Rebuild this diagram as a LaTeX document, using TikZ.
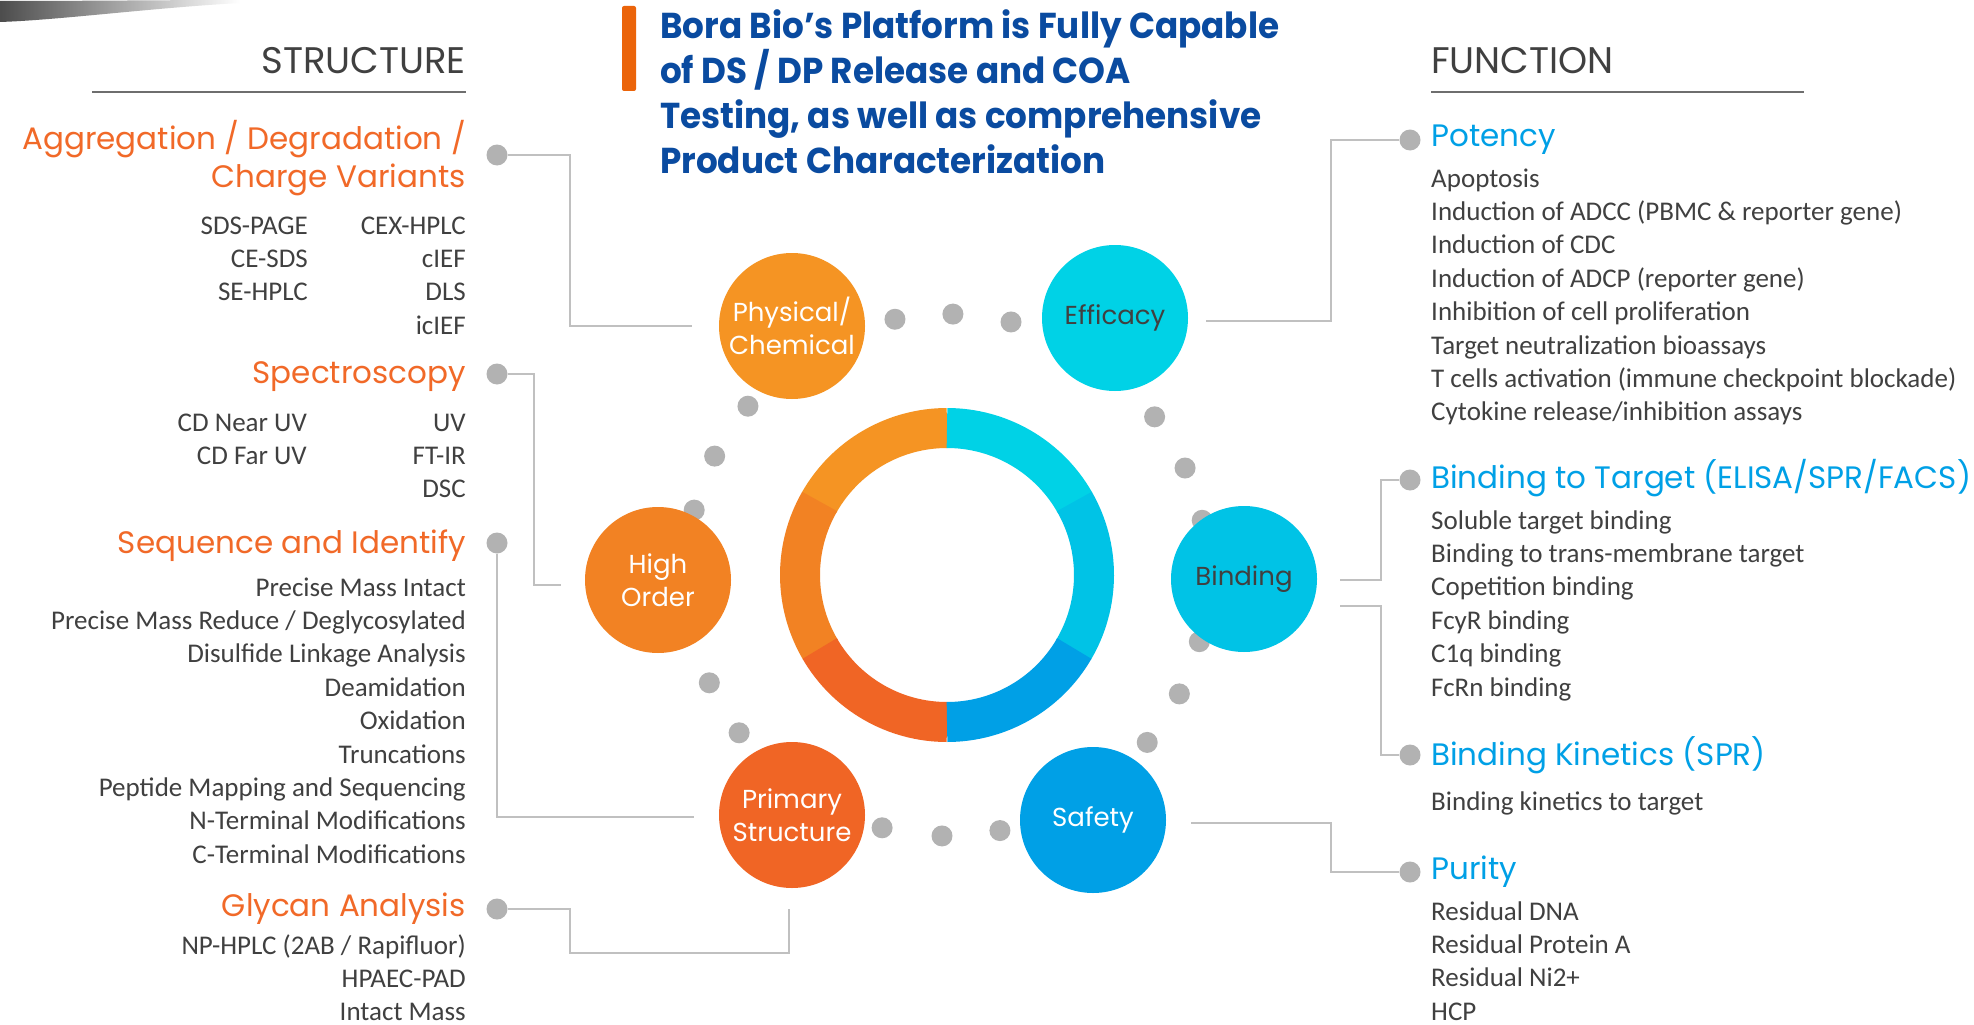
\documentclass[tikz,border=0pt]{standalone}
\usepackage{fontspec}
\setmainfont{Carlito}
\newfontfamily\gothic{Poppins}
\newfontfamily\gothicttl{Poppins}[FakeStretch=0.95]
\usetikzlibrary{positioning,backgrounds}

\definecolor{txtgray}{RGB}{64,64,64}
\definecolor{headorange}{RGB}{241,105,40}
\definecolor{headblue}{RGB}{0,160,230}
\definecolor{dotgray}{RGB}{178,178,178}
\definecolor{linegray}{RGB}{192,192,192}
\definecolor{rulegray}{RGB}{110,110,110}
\definecolor{ttlblue}{RGB}{10,75,160}
\definecolor{barorange}{RGB}{235,100,10}
\definecolor{physorange}{RGB}{245,148,35}
\definecolor{highorange}{RGB}{242,130,35}
\definecolor{primorange}{RGB}{240,101,37}
\definecolor{efficyan}{RGB}{0,210,230}
\definecolor{bindcyan}{RGB}{0,195,230}
\definecolor{safeblue}{RGB}{0,160,230}

\begin{document}
\begin{tikzpicture}[x=1pt, y=1pt, node distance=7pt]
	\tikzset{
		item/.style={inner sep=0pt, text height=19pt, text depth=7pt, text=txtgray, font=\fontsize{27}{31}\selectfont},
		litem/.style={item, below left=7pt and 0pt of #1.south east},
		ritem/.style={item, below right=7pt and 0pt of #1.south west},
		lhead/.style={inner sep=0pt, text=headorange, font=\gothic\fontsize{31}{38}\selectfont},
		rhead/.style={inner sep=0pt, text=headblue, font=\gothic\fontsize{31}{38}\selectfont},
		sect/.style={inner sep=0pt, text=txtgray, font=\gothic\fontsize{37}{44}\selectfont},
		dot/.style={circle, fill=dotgray, minimum size=21pt, inner sep=0pt},
		bubble/.style={circle, minimum size=146pt, inner sep=0pt, align=center, font=\gothic\fontsize{26}{33}\selectfont, text=white},
		link/.style={draw=linegray, line width=1.5pt},
		seg/.style={line width=40pt}
	}
	\useasboundingbox (0,0) rectangle (1974,-1025);
	\begin{scope}[on background layer]
		\fill[white] (0,0) rectangle (1974,-1025);
	\end{scope}
	% smudge in the corner
	\shade[left color=black!70, right color=white] (0,-1) .. controls (80,-1) and (180,0) .. (240,0) -- (240,-3) .. controls (150,-8) and (60,-20) .. (0,-22) -- cycle;

	% title
	\fill[barorange, rounded corners=2pt] (622,-6) rectangle (636,-91);
	\node[anchor=north west, align=left, inner sep=0pt, text=ttlblue, font=\gothicttl\bfseries\fontsize{36}{45}\selectfont] (title) at (660,-9) {Bora Bio’s Platform is Fully Capable\\of DS / DP Release and COA\\Testing, as well as comprehensive\\Product Characterization};

	% ring
	\coordinate (ctr) at (947,-575);
	\draw[seg, physorange] ([shift={(90:147)}]ctr) arc[start angle=90, end angle=150.5, radius=147];
	\draw[seg, highorange] ([shift={(150:147)}]ctr) arc[start angle=150, end angle=210.5, radius=147];
	\draw[seg, primorange] ([shift={(210:147)}]ctr) arc[start angle=210, end angle=270, radius=147];
	\draw[seg, efficyan] ([shift={(90:147)}]ctr) arc[start angle=90, end angle=29.5, radius=147];
	\draw[seg, bindcyan] ([shift={(30:147)}]ctr) arc[start angle=30, end angle=-30.5, radius=147];
	\draw[seg, safeblue] ([shift={(-30:147)}]ctr) arc[start angle=-30, end angle=-90, radius=147];

	\foreach \a in {101.5,88.7,75.8,37.3,24.2,12.1,-14.8,-27.1,-39.9,-78.3,-91.1,-104.4,-142.8,-155.6,165.6,152.9,139.7}
		\fill[dotgray] ([shift={(\a:261)}]ctr) circle (10.5);

	\node[bubble, fill=physorange] (phys) at (792,-326) {Physical/\\Chemical};
	\node[bubble, fill=efficyan, text=txtgray] (effic) at (1115,-318) {Efficacy};
	\node[bubble, fill=highorange] (highord) at (658,-580) {High\\Order};
	\node[bubble, fill=bindcyan, text=txtgray] (bind) at (1244,-579) {Binding};
	\node[bubble, fill=primorange] (prim) at (792,-815) {Primary\\Structure};
	\node[bubble, fill=safeblue] (safety) at (1093,-820) {Safety};

	% structure side
	\node[sect, anchor=base east] (structure) at (466,-74) {STRUCTURE};
	\draw[rulegray, line width=1.5pt] (92,-92) -- (466,-92);

	\node[lhead, align=right, anchor=east] (aggr) at (466,-158) {Aggregation / Degradation /\\Charge Variants};
	\node[dot] (daggr) at (497,-155) {};
	\node[item, anchor=base east] (aggr1) at (308,-234) {SDS-PAGE};
	\node[litem=aggr1] (aggr2) {CE-SDS};
	\node[litem=aggr2] (aggr3) {SE-HPLC};
	\node[item, anchor=base east] (aggr4) at (466,-234) {CEX-HPLC};
	\node[litem=aggr4] (aggr5) {cIEF};
	\node[litem=aggr5] (aggr6) {DLS};
	\node[litem=aggr6] (aggr7) {icIEF};

	\node[lhead, anchor=base east] (spec) at (466,-383) {Spectroscopy};
	\node[dot] (dspec) at (497,-374) {};
	\node[item, anchor=base east] (spec1) at (307,-431) {CD Near UV};
	\node[litem=spec1] (spec2) {CD Far UV};
	\node[item, anchor=base east] (spec3) at (466,-431) {UV};
	\node[litem=spec3] (spec4) {FT-IR};
	\node[litem=spec4] (spec5) {DSC};

	\node[lhead, anchor=base east] (seq) at (466,-553) {Sequence and Identify};
	\node[dot] (dseq) at (497,-543) {};
	\node[item, anchor=base east] (seq1) at (466,-596) {Precise Mass Intact};
	\node[litem=seq1] (seq2) {Precise Mass Reduce / Deglycosylated};
	\node[litem=seq2] (seq3) {Disulfide Linkage Analysis};
	\node[litem=seq3] (seq4) {Deamidation};
	\node[litem=seq4] (seq5) {Oxidation};
	\node[litem=seq5] (seq6) {Truncations};
	\node[litem=seq6] (seq7) {Peptide Mapping and Sequencing};
	\node[litem=seq7] (seq8) {N-Terminal Modifications};
	\node[litem=seq8] (seq9) {C-Terminal Modifications};

	\node[lhead, anchor=base east] (glyc) at (466,-916) {Glycan Analysis};
	\node[dot] (dglyc) at (497,-909) {};
	\node[item, anchor=base east] (glyc1) at (466,-954) {NP-HPLC (2AB / Rapifluor)};
	\node[litem=glyc1] (glyc2) {HPAEC-PAD};
	\node[litem=glyc2] (glyc3) {Intact Mass};

	% function side
	\node[sect, anchor=base west] (function) at (1431,-74) {FUNCTION};
	\draw[rulegray, line width=1.5pt] (1431,-92) -- (1804,-92);

	\node[rhead, anchor=base west] (pot) at (1431,-146) {Potency};
	\node[dot] (dpot) at (1410,-140) {};
	\node[item, anchor=base west] (pot1) at (1431,-187) {Apoptosis};
	\node[ritem=pot1] (pot2) {Induction of ADCC (PBMC \& reporter gene)};
	\node[ritem=pot2] (pot3) {Induction of CDC};
	\node[ritem=pot3] (pot4) {Induction of ADCP (reporter gene)};
	\node[ritem=pot4] (pot5) {Inhibition of cell proliferation};
	\node[ritem=pot5] (pot6) {Target neutralization bioassays};
	\node[ritem=pot6] (pot7) {T cells activation (immune checkpoint blockade)};
	\node[ritem=pot7] (pot8) {Cytokine release/inhibition assays};

	\node[rhead, anchor=base west] (bt) at (1431,-488) {Binding to Target (ELISA/SPR/FACS)};
	\node[dot] (dbt) at (1410,-480) {};
	\node[item, anchor=base west] (bt1) at (1431,-529) {Soluble target binding};
	\node[ritem=bt1] (bt2) {Binding to trans-membrane target};
	\node[ritem=bt2] (bt3) {Copetition binding};
	\node[ritem=bt3] (bt4) {FcyR binding};
	\node[ritem=bt4] (bt5) {C1q binding};
	\node[ritem=bt5] (bt6) {FcRn binding};

	\node[rhead, anchor=base west] (kin) at (1431,-765) {Binding Kinetics (SPR)};
	\node[dot] (dkin) at (1410,-755) {};
	\node[item, anchor=base west] (kin1) at (1431,-810) {Binding kinetics to target};

	\node[rhead, anchor=base west] (pur) at (1431,-879) {Purity};
	\node[dot] (dpur) at (1410,-872) {};
	\node[item, anchor=base west] (pur1) at (1431,-920) {Residual DNA};
	\node[ritem=pur1] (pur2) {Residual Protein A};
	\node[ritem=pur2] (pur3) {Residual Ni2+};
	\node[ritem=pur3] (pur4) {HCP};

	% connectors
	\begin{scope}[on background layer]
		\draw[link] (daggr) -- ++(73,0) |- ([xshift=-27pt]phys.west);
		\draw[link] (dspec) -- ++(37,0) |- ([xshift=-24pt,yshift=-5pt]highord.west);
		\draw[link] (dseq) |- ([xshift=-25pt,yshift=-2pt]prim.west);
		\draw[link] (dglyc) -- ++(73,0) |- ([xshift=-3pt,yshift=-65pt]prim.south) -- ([xshift=-3pt,yshift=-21pt]prim.south);
		\draw[link] ([xshift=18pt,yshift=-3pt]effic.east) -- ++(125,0) |- (dpot);
		\draw[link] ([xshift=23pt,yshift=-1pt]bind.east) -- ++(41,0) |- (dbt);
		\draw[link] ([xshift=23pt,yshift=-27pt]bind.east) -- ++(41,0) |- (dkin);
		\draw[link] ([xshift=25pt,yshift=-3pt]safety.east) -- ++(140,0) |- (dpur);
	\end{scope}
\end{tikzpicture}
\end{document}
